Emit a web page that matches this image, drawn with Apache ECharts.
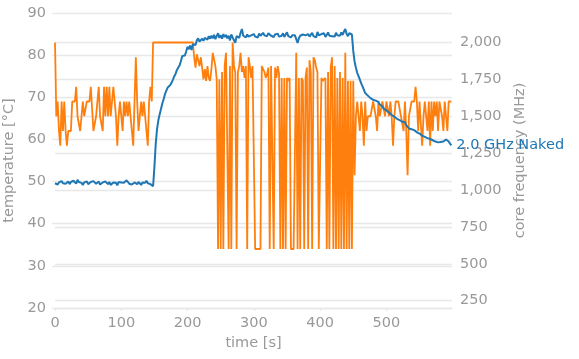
<!DOCTYPE html>
<html>
<head>
<meta charset="utf-8">
<script src="https://cdn.jsdelivr.net/npm/echarts@6/dist/echarts.min.js"></script>
<style>
  html, body { margin: 0; padding: 0; background: #fff; }
  #chart { width: 579px; height: 359px; }
</style>
</head>
<body>
<div id="chart"></div>
<script>
// sampling step of the recording, seconds
const timeStep = 2;

// temperature [°C], one value every 2 s from t = 0
const temperature = [
  49.6, 50.0, 49.3, 49.8, 49.7, 50.1, 49.6, 49.9, 49.5, 49.8,
  50.0, 49.4, 49.9, 49.7, 50.2, 49.8, 49.5, 50.4, 49.9, 50.3,
  49.7, 49.2, 49.8, 49.6, 50.0, 49.4, 49.7, 49.9, 49.6, 50.1,
  49.8, 49.5, 49.9, 50.0, 49.3, 49.7, 49.8, 49.5, 50.0, 49.6,
  49.4, 49.9, 49.2, 49.6, 49.8, 49.5, 49.7, 49.1, 49.9, 49.6,
  49.8, 49.4, 49.7, 49.9, 50.3, 50.0, 49.5, 49.8, 49.3, 49.6,
  49.8, 49.5, 49.4, 49.9, 49.6, 49.2, 49.8, 49.5, 49.7, 50.2,
  49.6, 49.9, 49.4, 49.8, 48.9, 53.5, 59.0, 62.5, 64.6, 66.0,
  67.3, 68.6, 69.6, 70.8, 71.6, 72.3, 72.6, 72.9, 73.5, 74.2,
  75.0, 75.6, 76.5, 76.8, 77.6, 78.6, 79.8, 80.2, 79.9, 80.9,
  82.0, 81.4, 82.3, 81.2, 82.6, 83.0, 82.4, 83.5, 84.0, 83.2,
  83.6, 83.9, 83.4, 84.1, 84.2, 83.7, 84.5, 83.9, 84.6, 84.0,
  84.8, 83.8, 84.5, 85.2, 84.1, 84.7, 83.9, 85.0, 84.3, 84.8,
  84.0, 84.6, 83.5, 84.9, 84.2, 83.9, 82.9, 84.5, 84.8, 84.1,
  85.3, 86.2, 84.6, 85.0, 84.2, 84.9, 84.4, 84.1, 84.7, 84.3,
  85.0, 84.4, 84.8, 84.2, 85.1, 84.6, 84.9, 85.3, 84.7, 85.0,
  84.5, 85.2, 84.8, 84.6, 85.0, 84.3, 84.9, 84.7, 85.1, 84.4,
  84.8, 84.6, 85.2, 84.3, 84.9, 85.4, 84.5, 84.8, 84.2, 84.7,
  84.3, 84.7, 83.8, 82.9, 84.0, 84.6, 84.2, 84.9, 84.5, 84.7,
  84.3, 85.0, 84.4, 84.8, 85.3, 84.5, 84.9, 84.2, 85.5, 84.7,
  84.4, 85.0, 84.6, 85.2, 84.3, 84.8, 85.4, 84.6, 85.0, 84.5,
  84.9, 84.4, 85.3, 84.7, 85.1, 84.6, 85.4, 84.8, 85.6, 86.2,
  85.0, 84.5, 85.2, 84.8, 84.9, 81.0, 78.5, 77.0, 75.8, 75.0,
  74.2, 73.3, 72.6, 71.8, 71.0, 70.6, 70.4, 70.0, 69.8, 69.9,
  69.4, 69.6, 69.2, 69.3, 68.9, 68.3, 68.6, 67.8, 67.3, 67.7,
  66.9, 67.1, 66.4, 66.6, 65.8, 66.1, 65.4, 65.7, 64.9, 65.2,
  64.6, 64.9, 64.2, 63.8, 64.1, 63.4, 63.0, 62.6, 62.9, 62.4,
  62.7, 62.2, 62.5, 61.7, 61.9, 61.4, 61.7, 60.9, 61.2, 60.6,
  60.9, 60.3, 60.5, 60.1, 60.4, 59.8, 60.0, 59.5, 59.8, 59.3,
  59.6, 59.4, 59.2, 59.5, 59.7, 60.0, 59.8, 59.5, 59.0, 58.6
];

// core frequency (MHz), one value every 2 s from t = 0
const frequency = [
  2000, 1500, 1600, 1400, 1300, 1600, 1400, 1600, 1400, 1300,
  1400, 1400, 1400, 1600, 1600, 1600, 1700, 1500, 1500, 1400,
  1400, 1600, 1500, 1500, 1600, 1600, 1600, 1700, 1700, 1400,
  1400, 1500, 1600, 1700, 1500, 1500, 1400, 1700, 1500, 1700,
  1500, 1700, 1500, 1500, 1700, 1700, 1500, 1300, 1500, 1600,
  1600, 1400, 1600, 1500, 1600, 1500, 1600, 1600, 1400, 1300,
  1600, 1900, 1600, 1400, 1400, 1600, 1500, 1600, 1500, 1400,
  1300, 1600, 1700, 1600, 2000, 2000, 2000, 2000, 2000, 2000,
  2000, 2000, 2000, 2000, 2000, 2000, 2000, 2000, 2000, 2000,
  2000, 2000, 2000, 2000, 2000, 2000, 2000, 2000, 2000, 2000,
  2000, 2000, 2000, 2000, 2000, 1900, 1830, 1920, 1880, 1840,
  1900, 1830, 1750, 1820, 1740, 1840, 1760, 1740, 1820, 1930,
  1930, 1840, 1750, 600, 1750, 600, 1800, 600, 1840, 1930,
  1930, 600, 1840, 600, 2000, 1840, 1800, 600, 1800, 1840,
  1930, 1800, 1840, 1760, 1840, 600, 1900, 1840, 1760, 1840,
  1840, 600, 600, 600, 600, 600, 1840, 1840, 1800, 1760,
  1790, 1830, 600, 1840, 1830, 600, 1830, 1760, 1840, 1790,
  600, 1760, 600, 1760, 600, 1760, 1740, 1760, 600, 600,
  600, 600, 1930, 600, 1760, 600, 1760, 1740, 600, 1760,
  1830, 600, 1880, 1800, 600, 1900, 1880, 1830, 1800, 600,
  600, 1760, 1740, 1740, 1760, 600, 1800, 600, 1830, 1900,
  600, 1840, 600, 1760, 600, 1800, 600, 1760, 600, 1930,
  600, 1740, 600, 1740, 600, 1740, 1100, 1500, 1600, 1600,
  1400, 1600, 1500, 1300, 1600, 1400, 1500, 1500, 1500, 1500,
  1600, 1600, 1500, 1400, 1600, 1500, 1500, 1600, 1600, 1500,
  1600, 1600, 1500, 1600, 1500, 1300, 1500, 1600, 1600, 1600,
  1600, 1500, 1500, 1400, 1600, 1400, 1100, 1500, 1500, 1600,
  1600, 1600, 1700, 1600, 1400, 1600, 1600, 1300, 1500, 1600,
  1600, 1400, 1600, 1300, 1600, 1400, 1600, 1500, 1600, 1400,
  1600, 1600, 1500, 1400, 1600, 1600, 1400, 1600, 1600, 1600
];

// tick labels
const timeTicks = [0, 100, 200, 300, 400, 500];
const freqTicks = [250, 500, 750, 1000, 1250, 1500, 1750, 2000];
const seriesLabel = '2.0 GHz Naked';

const tempData = temperature.map((v, i) => [i * timeStep, v]);
const freqData = frequency.map((v, i) => [i * timeStep, v]);

const gray = '#999999';
const gridColor = '#e8e8e8';
const font = 'DejaVu Sans';
const fs = 14.5;

const chart = echarts.init(document.getElementById('chart'), null, { renderer: 'canvas' });
chart.setOption({
  animation: false,
  backgroundColor: '#ffffff',
  grid: { left: 55, right: 127, top: 13, bottom: 51, containLabel: false, outerBoundsMode: 'none' },
  xAxis: {
    type: 'value',
    min: 0,
    max: 599,
    name: 'time [s]',
    nameLocation: 'middle',
    nameGap: 26,
    nameTextStyle: { color: gray, fontSize: fs, fontFamily: font },
    axisLine: { show: true, lineStyle: { color: gridColor, width: 1.3 } },
    axisTick: { show: true, length: 3, customValues: timeTicks, lineStyle: { color: gridColor, width: 1.3 } },
    axisLabel: { customValues: timeTicks, color: gray, fontSize: fs, fontFamily: font, margin: 8 },
    splitLine: { show: false }
  },
  yAxis: [
    {
      type: 'value',
      min: 20,
      max: 90,
      interval: 10,
      position: 'left',
      name: 'temperature [°C]',
      nameLocation: 'middle',
      nameGap: 30,
      nameTextStyle: { color: gray, fontSize: fs, fontFamily: font },
      axisLine: { show: false },
      axisTick: { show: true, length: 3, lineStyle: { color: gridColor, width: 1.3 } },
      axisLabel: { color: gray, fontSize: fs, fontFamily: font, margin: 9 },
      splitLine: { show: true, lineStyle: { color: gridColor, width: 1.3 } }
    },
    {
      type: 'value',
      min: 200,
      max: 2200,
      position: 'right',
      name: 'core frequency (MHz)',
      nameLocation: 'middle',
      nameGap: 43,
      nameTextStyle: { color: gray, fontSize: fs, fontFamily: font },
      axisLine: { show: false },
      axisTick: { show: false, customValues: freqTicks },
      axisLabel: { customValues: freqTicks, color: gray, fontSize: fs, fontFamily: font, margin: 8 },
      splitLine: { show: true, lineStyle: { color: gridColor, width: 1.3 } }
    }
  ],
  series: [
    {
      name: 'core frequency',
      type: 'line',
      yAxisIndex: 1,
      data: freqData,
      showSymbol: false,
      lineStyle: { color: '#ff7f0e', width: 1.8 },
      itemStyle: { color: '#ff7f0e' },
      z: 2
    },
    {
      name: 'temperature',
      type: 'line',
      yAxisIndex: 0,
      data: tempData,
      showSymbol: false,
      lineStyle: { color: '#1f77b4', width: 2 },
      itemStyle: { color: '#1f77b4' },
      z: 3,
      endLabel: {
        show: true,
        formatter: seriesLabel,
        color: '#1f77b4',
        fontSize: fs,
        fontFamily: font,
        distance: 5
      }
    }
  ]
});
</script>
</body>
</html>
